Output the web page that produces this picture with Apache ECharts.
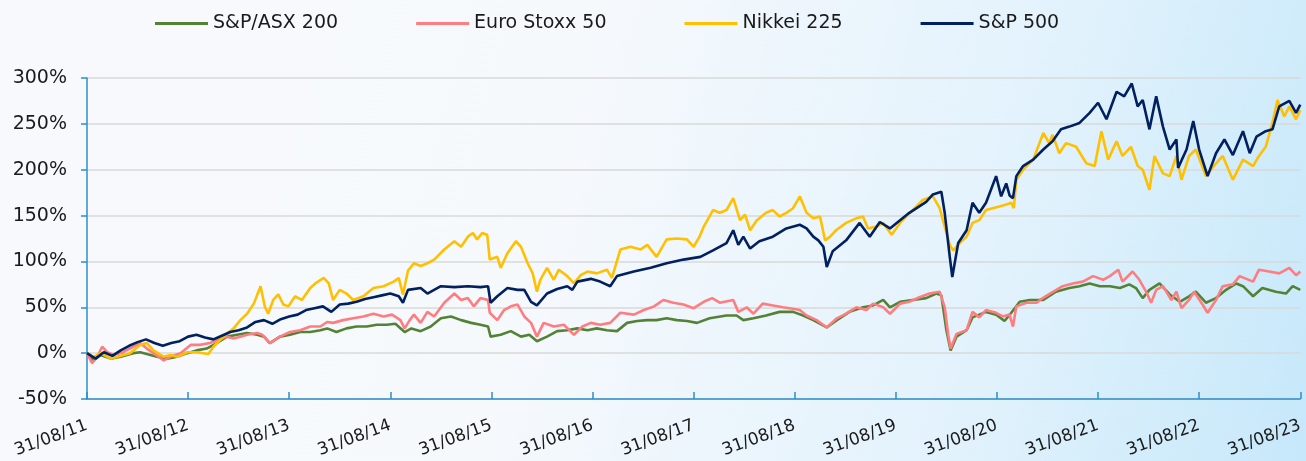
<!DOCTYPE html>
<html>
<head>
<meta charset="utf-8">
<script src="https://cdn.jsdelivr.net/npm/echarts@6/dist/echarts.min.js"></script>
<style>
  html, body { margin: 0; padding: 0; }
  body {
    width: 1306px;
    height: 461px;
    background: linear-gradient(105deg, #f8f9fc 0%, #f6f9fc 42%, #e2f2fc 75%, #c6e8fa 100%);
  }
  #chart { width: 1306px; height: 461px; }
</style>
</head>
<body>
<div id="chart"></div>
<script>
/*
 * Cumulative index returns since 31/08/11.
 * x = months since 31/08/2011 (0..144), y = return in %.
 * Points.
 */
const yearLabels = ["11", "12", "13", "14", "15", "16", "17", "18", "19", "20", "21", "22", "23"];

const asx200 = [
  [0,0],[0.8,-8],[1.6,-2],[2.8,-6],[4,-4],[5.5,0],[6.3,1],[7.1,-1],[8.3,-4],[9.5,-6],[10.7,-4],[11.9,0],
  [13,3],[14.2,5],[15.4,11],[16.6,18],[17.8,20],[19,22],[20.2,20],[21,18],[21.7,11],[22.9,18],[24.1,20],
  [25.3,23],[26.5,23],[27.7,25],[28.5,27],[29.6,23],[30.8,27],[32,29],[33.2,29],[34.4,31],[35.6,31],
  [36.6,32],[37.7,23],[38.5,27],[39.6,24],[40.8,29],[42,38],[43.2,40],[44.4,36],[45.6,33],[46.7,31],
  [47.6,29],[47.9,18],[49.1,20],[50.3,24],[51.5,18],[52.5,20],[53.4,13],[54.6,18],[55.8,24],[57,25],
  [58.2,27],[59.4,25],[60.5,27],[61.7,25],[62.9,24],[64.1,33],[65.3,35],[66.5,36],[67.6,36],[68.8,38],
  [70,36],[71.2,35],[72.4,33],[73.9,38],[75.9,41],[77.1,41],[77.9,36],[79.1,38],[80.6,41],[82.2,45],
  [83.8,45],[85,41],[86.2,36],[87.8,28],[89,36],[90.5,45],[92.1,50],[93.3,52],[94.5,58],[95.3,50],
  [96.5,56],[98,58],[99.6,60],[100.8,65],[101.4,63],[102,25],[102.5,3],[103.2,18],[104.4,25],[105.1,39],
  [106.7,45],[107.9,42],[108.9,35],[109.7,44],[110.7,56],[111.9,58],[113.5,58],[115,67],[116.6,71],
  [117.8,73],[119,76],[120.2,73],[121.4,73],[122.6,71],[123.7,75],[124.5,71],[125.3,60],[126.1,69],
  [127.3,76],[128.5,64],[129.7,56],[130.8,62],[131.6,67],[132.8,55],[134,60],[135.2,69],[136.4,76],
  [137.2,73],[138.4,62],[139.5,71],[141.1,67],[142.3,65],[143.1,73],[144,69]
];

const euroStoxx50 = [
  [0,0],[0.6,-11],[1.2,-4],[1.8,7],[2.4,1],[3.2,-2],[4.3,1],[5.5,7],[6.3,11],[7.1,5],[7.9,0],[9.1,-8],
  [9.9,-4],[11.1,0],[12.3,9],[13.4,9],[14.6,11],[15.4,14],[16.6,18],[17.4,16],[18.2,18],[19,20],[20.2,22],
  [20.8,20],[21.7,11],[22.9,18],[24.1,23],[25.3,25],[26.5,29],[27.7,29],[28.5,34],[29.2,33],[30.4,36],
  [31.6,38],[32.8,40],[34,43],[35.2,40],[36.2,42],[37.2,36],[37.7,27],[38.3,36],[38.8,42],[39.6,33],
  [40.4,45],[41.2,40],[42.4,55],[43.6,65],[44.4,58],[45.2,60],[45.9,51],[46.7,60],[47.6,58],[47.8,44],
  [48.7,36],[49.5,47],[50.3,51],[51.1,53],[51.9,40],[52.7,33],[53.4,18],[54.2,33],[55.4,29],[56.6,31],
  [57.8,20],[58.8,29],[59.8,33],[60.9,31],[62.1,33],[63.3,44],[64.9,42],[66.1,47],[67.3,51],[68.4,58],
  [69.6,55],[70.8,53],[72,49],[73.2,56],[74.2,60],[75.1,55],[76.7,58],[77.3,45],[78.3,50],[79.1,43],
  [80.2,54],[81.4,52],[82.6,50],[83.4,49],[84.6,47],[85.4,41],[86.6,36],[87.8,28],[89,38],[90.1,43],
  [91.3,50],[92.5,47],[93.3,54],[94.5,50],[95.3,43],[96.5,54],[97.6,56],[98.8,61],[100,65],[101.2,67],
  [101.8,50],[102.2,21],[102.5,5],[103.2,21],[104.4,25],[105.1,45],[105.9,39],[106.7,47],[107.9,44],
  [108.7,40],[109.5,42],[109.9,29],[110.3,51],[111.5,55],[112.7,55],[113.1,58],[114.3,65],[115.8,73],
  [117,76],[118.2,78],[119.4,84],[120.6,80],[121.4,84],[122.4,91],[122.9,78],[124.1,89],[124.9,80],
  [125.7,67],[126.3,55],[126.9,69],[127.7,73],[128.7,58],[129.3,67],[129.9,49],[130.8,58],[131.4,67],
  [132.4,53],[133,44],[134,58],[134.8,73],[136,75],[136.8,84],[138.4,78],[139.1,91],[140.3,89],
  [141.5,87],[142.7,93],[143.5,85],[144,89]
];

const nikkei225 = [
  [0,0],[0.8,-4],[1.6,0],[2.8,-6],[3.6,-4],[5.1,0],[6.3,9],[7.1,11],[7.9,3],[9.1,-4],[9.9,-2],[10.7,-4],
  [11.9,1],[13,1],[14.4,-1],[15,7],[16.2,18],[17.4,27],[18.2,36],[19,43],[19.8,54],[20.6,73],[21.1,51],
  [21.5,43],[22.1,58],[22.7,64],[23.3,53],[23.9,51],[24.7,62],[25.5,58],[26.5,71],[27.1,76],[28.1,82],
  [28.7,76],[29.2,58],[30,69],[30.8,65],[31.6,58],[32.8,62],[34,71],[35.2,73],[36.4,78],[37,82],
  [37.5,64],[38.1,90],[38.8,98],[39.6,95],[40.4,98],[41.2,102],[42.4,113],[43.6,122],[44.4,116],
  [45.2,127],[45.8,131],[46.3,124],[46.9,131],[47.5,129],[47.8,102],[48.7,105],[49.1,93],[49.9,109],
  [50.9,122],[51.5,116],[52.3,98],[52.9,87],[53.4,67],[53.8,80],[54.6,93],[55.4,80],[56,91],[57,84],
  [57.8,76],[58.6,85],[59.4,89],[60.5,87],[61.7,91],[62.3,82],[63.3,113],[64.5,116],[65.7,113],
  [66.5,118],[67.6,105],[68.8,124],[70,125],[71.2,124],[72,116],[72.7,127],[73.2,138],[74.3,156],
  [75.1,153],[75.9,156],[76.7,169],[77.5,145],[78.1,151],[78.7,134],[79.5,145],[80.6,153],[81.4,156],
  [82.2,149],[83,153],[83.8,158],[84.6,171],[85.4,153],[86.2,147],[87,149],[87.6,123],[88.2,127],
  [88.9,134],[90.1,142],[91.3,147],[92.1,149],[92.7,136],[93.7,138],[94.5,142],[95.5,129],[96.5,142],
  [98,156],[99.2,167],[100.4,171],[101.2,158],[101.8,138],[102.4,118],[102.8,112],[103.6,120],
  [104.4,127],[105.1,142],[105.9,145],[106.7,156],[107.5,158],[108.3,160],[109.1,162],[109.7,164],
  [110,158],[110.3,189],[111.1,200],[112.3,211],[113.5,240],[114.2,229],[114.6,238],[115.4,218],
  [116.2,229],[117.4,225],[118.6,207],[119.6,204],[120.4,242],[121.2,211],[122.2,231],[122.9,215],
  [123.9,225],[124.7,204],[125.3,200],[126.1,178],[126.7,215],[127.7,196],[128.5,193],[129.3,215],
  [129.9,189],[130.8,215],[131.6,222],[132.8,193],[134,207],[134.8,215],[136,189],[137.2,211],
  [138.4,204],[139.1,215],[139.9,225],[140.7,251],[141.3,276],[142.1,258],[142.7,269],[143.5,255],[144,265]
];

const sp500 = [
  [0,0],[1,-6],[2,1],[3,-3],[4,3],[5,8],[6,12],[7,15],[8,11],[9,8],[10,11],[11,13],[12,18],[13,20],
  [14,17],[15,15],[16,19],[17,23],[18,25],[19,28],[20,34],[21,36],[22,32],[23,37],[24,40],[25,42],
  [26,47],[27,49],[28,51],[29,45],[30,53],[31,54],[32,56],[33,59],[34,61],[35,63],[36,65],[37,62],
  [37.5,55],[38.1,69],[39.6,71],[40.4,65],[42,73],[43.6,72],[45.2,73],[46.7,72],[47.6,73],[47.9,55],
  [48.7,62],[49.9,71],[51.1,69],[51.9,69],[52.7,56],[53.4,52],[54.6,65],[55.8,70],[57,73],[57.6,69],
  [58.2,78],[59.8,81],[60.9,78],[62.1,73],[62.9,84],[64.9,89],[66.9,93],[68.8,98],[70.8,102],[72.8,105],
  [74.3,112],[75.9,120],[76.7,134],[77.3,118],[77.9,127],[78.7,114],[79.8,122],[81.4,127],[83,136],
  [84.6,140],[85.4,136],[86.2,127],[86.8,123],[87.4,116],[87.8,94],[88.5,111],[90.1,123],[91.7,142],
  [92.9,127],[94.1,143],[95.3,136],[96.5,145],[97.6,153],[99.6,165],[100.4,173],[101.4,176],[101.8,153],
  [102.4,105],[102.7,83],[103.4,120],[104.4,134],[105.1,164],[105.9,153],[106.7,164],[107.9,193],
  [108.5,171],[109.1,185],[109.5,172],[109.9,169],[110.3,193],[111.1,204],[112.3,211],[113.5,222],
  [114.6,231],[115.6,244],[116.6,247],[117.8,251],[119,262],[120,273],[121,255],[122.2,285],[123.1,280],
  [124,294],[124.7,269],[125.3,276],[126.1,244],[126.9,280],[127.7,247],[128.5,222],[129.3,233],
  [129.5,202],[130.5,222],[131.3,253],[132,222],[133,193],[134,218],[135,233],[136,216],[137.2,242],
  [138,218],[138.8,236],[139.9,242],[140.7,244],[141.5,269],[142.7,275],[143.5,262],[144,271]
];

const FONT = "DejaVu Sans, sans-serif";

function line(name, data, color) {
  return {
    name: name,
    type: "line",
    data: data,
    showSymbol: false,
    color: color,
    lineStyle: { width: 2.6, color: color },
    emphasis: { disabled: true }
  };
}

const chart = echarts.init(document.getElementById("chart"), null, { renderer: "canvas" });

chart.setOption({
  backgroundColor: "transparent",
  animation: false,
  textStyle: { fontFamily: FONT },
  legend: {
    left: 150,
    top: 9,
    icon: "rect",
    itemWidth: 53,
    itemHeight: 3,
    itemGap: 78,
    textStyle: { fontSize: 19, color: "#1a1a1a", fontFamily: FONT },
    data: ["S&P/ASX 200", "Euro Stoxx 50", "Nikkei 225", "S&P 500"]
  },
  grid: { left: 87, right: 5, top: 78, bottom: 62, containLabel: false },
  xAxis: {
    type: "value",
    min: 0,
    max: 144,
    interval: 12,
    axisLine: { onZero: false, lineStyle: { color: "#2b8fcc", width: 1.5 } },
    axisTick: { inside: true, length: 7, lineStyle: { color: "#2b8fcc", width: 1.5 } },
    splitLine: { show: false },
    axisLabel: {
      rotate: 20,
      margin: 26,
      fontSize: 17,
      color: "#1a1a1a",
      fontFamily: FONT,
      formatter: function (v) {
        return "31/08/" + yearLabels[Math.round(v / 12)];
      }
    }
  },
  yAxis: {
    type: "value",
    min: -50,
    max: 300,
    interval: 50,
    axisLine: { show: true, lineStyle: { color: "#2b8fcc", width: 1.5 } },
    axisTick: { show: true, length: 6, lineStyle: { color: "#2b8fcc", width: 1.5 } },
    splitLine: { lineStyle: { color: "#d9d9d9", width: 1.5 } },
    axisLabel: {
      margin: 20,
      fontSize: 19,
      color: "#1a1a1a",
      fontFamily: FONT,
      formatter: "{value}%"
    }
  },
  series: [
    line("S&P/ASX 200", asx200, "#548235"),
    line("Euro Stoxx 50", euroStoxx50, "#ff7c80"),
    line("Nikkei 225", nikkei225, "#ffc000"),
    line("S&P 500", sp500, "#002060")
  ]
});
</script>
</body>
</html>
